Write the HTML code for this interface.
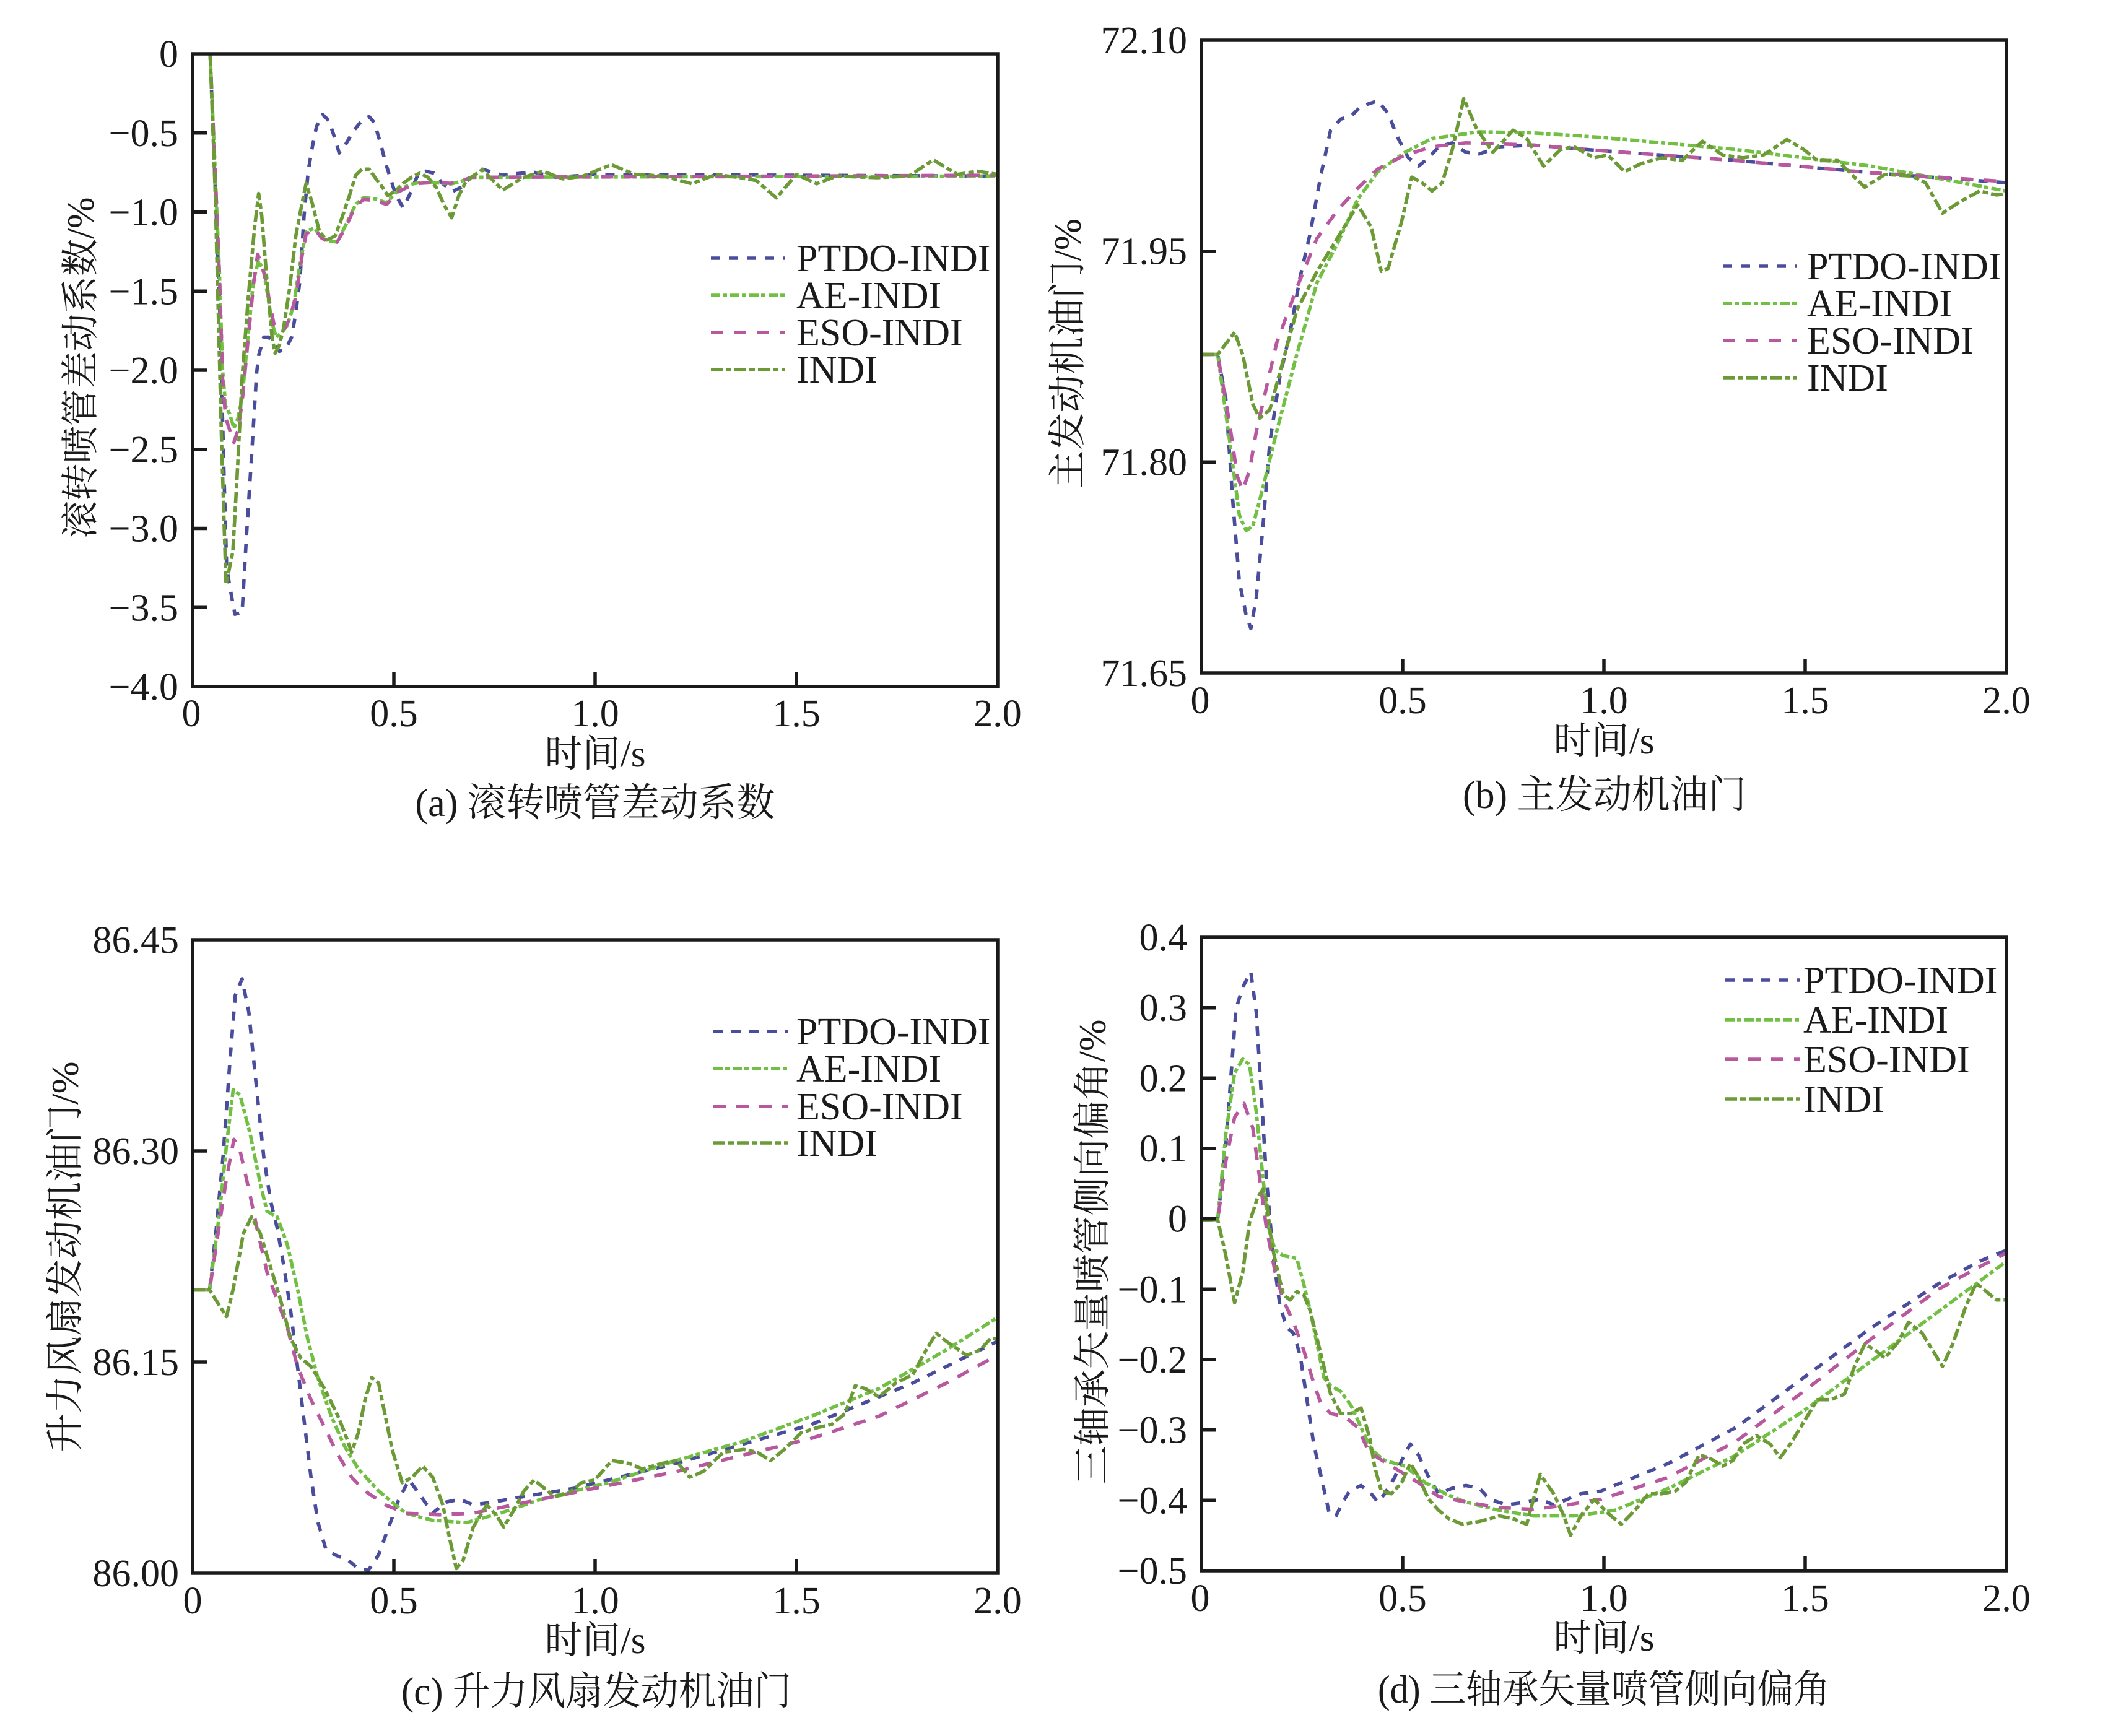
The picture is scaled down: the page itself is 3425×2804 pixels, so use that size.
<!DOCTYPE html>
<html>
<head>
<meta charset="utf-8">
<style>
  html, body { margin: 0; padding: 0; background: #ffffff; }
  svg { display: block; }
  .tk { font-family: "Liberation Serif", serif; font-size: 62px; fill: #1a1a1a; }
  .lg { font-family: "Liberation Serif", serif; font-size: 62px; fill: #1a1a1a; }
  .cj { font-family: "Liberation Serif", "Noto Serif CJK SC", serif; font-size: 61px; fill: #1a1a1a; }
  .cap { font-family: "Liberation Serif", "Noto Serif CJK SC", serif; font-size: 63px; fill: #1a1a1a; }
  .ax { fill: none; stroke: #1a1a1a; stroke-width: 5.5; }
  .tick { stroke: #1a1a1a; stroke-width: 5.5; }
  .s { fill: none; stroke-width: 5.6; stroke-linejoin: round; vector-effect: non-scaling-stroke; }
  .ptdo { stroke: #4a4c9c; stroke-dasharray: 15 14; }
  .ae { stroke: #72c043; stroke-dasharray: 15 4 7 5; }
  .eso { stroke: #b8589f; stroke-dasharray: 20 17; }
  .indi { stroke: #6c9a36; stroke-dasharray: 19 5 9 5; }
  .ls { fill: none; stroke-width: 5.6; }
</style>
</head>
<body>
<svg width="3425" height="2804" viewBox="0 0 3425 2804" xmlns="http://www.w3.org/2000/svg">
<rect x="0" y="0" width="3425" height="2804" fill="#ffffff"/>

<!-- ================= Panel (a) ================= -->
<g transform="translate(311,87) scale(0.333333,0.653595)">
  <path class="s ptdo" d="M85,0 L130,600 L150,1000 L165,1270 L185,1330 L205,1385 L240,1380 L260,1200 L285,1000 L310,790 L320,745 L345,700 L370,700 L395,720 L420,735 L450,730 L480,700 L500,640 L520,560 L540,400 L560,290 L580,230 L600,180 L630,150 L660,165 L690,210 L710,245 L740,225 L780,190 L820,165 L855,155 L880,170 L910,220 L935,270 L960,310 L985,350 L1020,380 L1050,350 L1090,300 L1130,290 L1170,295 L1210,320 L1260,340 L1300,330 L1350,305 L1404,285 L1500,300 L1650,292 L1760,305 L1950,298 L3900,302"/>
  <path class="s ae" d="M85,0 L110,300 L130,540 L145,780 L160,870 L180,890 L200,925 L220,900 L240,850 L270,690 L295,560 L320,510 L345,540 L365,600 L385,665 L405,700 L430,690 L460,670 L490,620 L520,520 L550,440 L590,430 L625,455 L660,462 L700,465 L740,425 L790,372 L830,355 L880,358 L940,368 L1000,335 L1060,322 L1100,318 L1170,318 L1250,322 L1300,315 L1350,305 L1400,305 L3900,302"/>
  <path class="s eso" d="M85,0 L110,300 L130,550 L145,800 L160,900 L180,930 L200,960 L220,930 L240,860 L270,700 L295,570 L315,495 L335,520 L355,560 L375,620 L395,670 L420,685 L445,680 L470,655 L500,600 L530,500 L550,445 L590,432 L625,455 L660,465 L700,465 L740,430 L790,375 L830,360 L880,362 L940,372 L1000,340 L1060,325 L1100,320 L1170,318 L1250,320 L1300,315 L1350,305 L1400,305 L3900,300"/>
  <path class="s indi" d="M85,0 L110,350 L125,650 L140,950 L155,1200 L162,1310 L175,1280 L195,1230 L215,1050 L240,800 L270,600 L300,430 L320,345 L335,400 L360,560 L385,700 L400,740 L420,720 L440,680 L470,580 L500,450 L530,370 L550,320 L580,370 L615,440 L650,460 L690,450 L720,410 L760,350 L790,300 L820,285 L855,285 L890,310 L920,330 L945,350 L980,340 L1020,320 L1060,305 L1100,295 L1140,305 L1180,330 L1220,375 L1255,405 L1290,350 L1320,320 L1350,305 L1404,286 L1502,337 L1599,306 L1697,290 L1794,309 L1892,302 L2028,274 L2145,298 L2282,302 L2418,321 L2535,298 L2652,306 L2730,313 L2828,356 L2925,298 L3023,321 L3120,302 L3315,306 L3471,302 L3588,262 L3705,298 L3803,290 L3900,298"/>
</g>
<rect class="ax" x="311" y="87" width="1300" height="1022"/>
<line class="tick" x1="311" y1="214.75" x2="334" y2="214.75"/>
<line class="tick" x1="311" y1="342.5" x2="334" y2="342.5"/>
<line class="tick" x1="311" y1="470.25" x2="334" y2="470.25"/>
<line class="tick" x1="311" y1="598" x2="334" y2="598"/>
<line class="tick" x1="311" y1="725.75" x2="334" y2="725.75"/>
<line class="tick" x1="311" y1="853.5" x2="334" y2="853.5"/>
<line class="tick" x1="311" y1="981.25" x2="334" y2="981.25"/>
<line class="tick" x1="636" y1="1109" x2="636" y2="1086"/>
<line class="tick" x1="961" y1="1109" x2="961" y2="1086"/>
<line class="tick" x1="1286" y1="1109" x2="1286" y2="1086"/>
<g class="tk" text-anchor="end">
  <text x="288" y="108">0</text>
  <text x="288" y="235.75">−0.5</text>
  <text x="288" y="363.5">−1.0</text>
  <text x="288" y="491.25">−1.5</text>
  <text x="288" y="619">−2.0</text>
  <text x="288" y="746.75">−2.5</text>
  <text x="288" y="874.5">−3.0</text>
  <text x="288" y="1002.25">−3.5</text>
  <text x="288" y="1130">−4.0</text>
</g>
<g class="tk" text-anchor="middle">
  <text x="309" y="1173">0</text>
  <text x="636" y="1173">0.5</text>
  <text x="961" y="1173">1.0</text>
  <text x="1286" y="1173">1.5</text>
  <text x="1611" y="1173">2.0</text>
</g>
<text class="cj" x="961" y="1238" text-anchor="middle" textLength="163" lengthAdjust="spacingAndGlyphs">时间/s</text>
<text class="cap" x="961" y="1318" text-anchor="middle" textLength="581" lengthAdjust="spacingAndGlyphs">(a) 滚转喷管差动系数</text>
<text class="cj" x="131" y="594" text-anchor="middle" dominant-baseline="central" transform="rotate(-90 131 594)" textLength="551" lengthAdjust="spacingAndGlyphs">滚转喷管差动系数/%</text>
<line class="ls ptdo" x1="1148" y1="417" x2="1268" y2="417"/>
<line class="ls ae" x1="1148" y1="477" x2="1268" y2="477"/>
<line class="ls eso" x1="1148" y1="537" x2="1268" y2="537"/>
<line class="ls indi" x1="1148" y1="597" x2="1268" y2="597"/>
<g class="lg">
  <text x="1286" y="438">PTDO-INDI</text>
  <text x="1286" y="498">AE-INDI</text>
  <text x="1286" y="558">ESO-INDI</text>
  <text x="1286" y="618">INDI</text>
</g>

<!-- ================= Panel (b) ================= -->
<g transform="translate(1712,0) scale(1.0917,0.8945)">
  <path class="s ptdo" d="M209,640 L233,640 L245,720 L255,900 L265,1050 L275,1110 L282,1135 L290,1080 L300,950 L310,800 L325,680 L340,600 L355,500 L370,420 L385,320 L400,235 L415,215 L430,210 L445,192 L470,182 L485,205 L500,250 L515,285 L530,300 L545,285 L560,265 L580,258 L600,275 L620,278 L650,265 L700,262 L800,272 L1000,290 L1200,312 L1400,330"/>
  <path class="s ae" d="M209,640 L233,640 L250,790 L265,930 L275,958 L285,950 L300,880 L320,780 L350,640 L380,510 L410,440 L440,360 L470,310 L510,275 L550,250 L620,238 L700,240 L800,248 L1000,270 L1200,300 L1400,345"/>
  <path class="s eso" d="M209,640 L233,640 L250,760 L262,860 L270,885 L280,850 L290,780 L305,700 L320,620 L350,520 L380,430 L410,380 L440,340 L470,305 L510,280 L550,265 L600,258 L700,262 L800,272 L1000,290 L1200,312 L1400,328"/>
  <path class="s indi" d="M209,640 L233,640 L258,600 L270,640 L285,730 L295,755 L310,740 L330,650 L350,560 L380,490 L410,430 L440,370 L460,410 L475,490 L485,485 L505,400 L520,320 L535,330 L550,345 L565,330 L580,270 L597,178 L615,230 L640,275 L670,235 L690,250 L715,300 L740,270 L760,265 L790,285 L810,280 L835,310 L860,295 L890,285 L920,290 L950,255 L980,280 L1010,285 L1040,280 L1075,252 L1100,270 L1120,290 L1150,290 L1190,338 L1220,315 L1260,318 L1280,330 L1305,385 L1330,365 L1360,345 L1385,352 L1400,350"/>
</g>
<rect class="ax" x="1940" y="65" width="1300" height="1022"/>
<line class="tick" x1="1940" y1="405.7" x2="1963" y2="405.7"/>
<line class="tick" x1="1940" y1="746.3" x2="1963" y2="746.3"/>
<line class="tick" x1="2265" y1="1087" x2="2265" y2="1064"/>
<line class="tick" x1="2590" y1="1087" x2="2590" y2="1064"/>
<line class="tick" x1="2915" y1="1087" x2="2915" y2="1064"/>
<g class="tk" text-anchor="end">
  <text x="1917" y="86">72.10</text>
  <text x="1917" y="426.7">71.95</text>
  <text x="1917" y="767.3">71.80</text>
  <text x="1917" y="1108">71.65</text>
</g>
<g class="tk" text-anchor="middle">
  <text x="1938" y="1152">0</text>
  <text x="2265" y="1152">0.5</text>
  <text x="2590" y="1152">1.0</text>
  <text x="2915" y="1152">1.5</text>
  <text x="3240" y="1152">2.0</text>
</g>
<text class="cj" x="2590" y="1217" text-anchor="middle" textLength="163" lengthAdjust="spacingAndGlyphs">时间/s</text>
<text class="cap" x="2591" y="1305" text-anchor="middle" textLength="458" lengthAdjust="spacingAndGlyphs">(b) 主发动机油门</text>
<text class="cj" x="1725" y="571" text-anchor="middle" dominant-baseline="central" transform="rotate(-90 1725 571)" textLength="436" lengthAdjust="spacingAndGlyphs">主发动机油门/%</text>
<line class="ls ptdo" x1="2782" y1="430" x2="2902" y2="430"/>
<line class="ls ae" x1="2782" y1="490" x2="2902" y2="490"/>
<line class="ls eso" x1="2782" y1="550" x2="2902" y2="550"/>
<line class="ls indi" x1="2782" y1="610" x2="2902" y2="610"/>
<g class="lg">
  <text x="2918" y="451">PTDO-INDI</text>
  <text x="2918" y="511">AE-INDI</text>
  <text x="2918" y="571">ESO-INDI</text>
  <text x="2918" y="631">INDI</text>
</g>

<!-- ================= Panel (c) ================= -->
<g transform="translate(0,1402) scale(1.0917,0.8945)">
  <path class="s ptdo" d="M285,762 L310,762 L320,650 L330,520 L340,350 L348,230 L358,200 L368,260 L378,380 L390,520 L400,600 L410,650 L420,720 L430,800 L440,900 L450,1000 L460,1100 L470,1180 L482,1230 L495,1240 L515,1250 L530,1265 L545,1268 L560,1240 L575,1190 L590,1140 L605,1105 L620,1130 L640,1165 L660,1145 L680,1140 L700,1150 L730,1145 L760,1138 L800,1130 L850,1120 L900,1105 L1000,1075 L1100,1040 L1200,1005 L1250,980 L1300,955 L1350,930 L1400,900 L1450,870 L1475,855"/>
  <path class="s ae" d="M285,762 L310,762 L325,620 L335,500 L345,400 L355,410 L370,480 L385,570 L395,620 L410,630 L425,680 L440,760 L455,850 L470,920 L490,990 L510,1045 L530,1085 L560,1125 L600,1165 L640,1178 L690,1182 L740,1165 L800,1140 L900,1110 L1000,1070 L1100,1035 L1200,990 L1300,940 L1400,870 L1475,812"/>
  <path class="s eso" d="M285,762 L310,762 L325,640 L335,560 L346,490 L355,510 L368,580 L380,650 L395,730 L410,780 L425,830 L440,900 L460,960 L480,1010 L500,1060 L520,1100 L540,1125 L570,1150 L600,1165 L650,1168 L700,1165 L760,1150 L800,1140 L900,1115 L1000,1090 L1100,1060 L1200,1030 L1300,990 L1400,930 L1475,880"/>
  <path class="s indi" d="M285,762 L310,762 L335,810 L345,760 L360,660 L372,630 L385,660 L400,720 L415,780 L430,850 L445,885 L460,900 L480,940 L500,990 L510,1020 L520,1055 L530,1020 L540,960 L550,920 L560,930 L570,990 L580,1050 L595,1110 L610,1100 L625,1080 L640,1100 L655,1150 L665,1210 L675,1265 L685,1250 L700,1190 L720,1150 L735,1170 L745,1190 L760,1160 L775,1125 L790,1105 L805,1120 L820,1135 L840,1130 L860,1110 L880,1105 L905,1070 L930,1075 L950,1085 L980,1075 L1000,1070 L1020,1100 L1040,1090 L1070,1055 L1100,1050 L1120,1055 L1140,1070 L1160,1050 L1185,1020 L1210,1010 L1230,1005 L1250,985 L1265,935 L1280,940 L1300,955 L1325,930 L1350,915 L1370,870 L1385,840 L1400,855 L1430,880 L1450,870 L1465,850 L1475,850"/>
</g>
<rect class="ax" x="311" y="1518" width="1300" height="1023"/>
<line class="tick" x1="311" y1="1859" x2="334" y2="1859"/>
<line class="tick" x1="311" y1="2200" x2="334" y2="2200"/>
<line class="tick" x1="636" y1="2541" x2="636" y2="2518"/>
<line class="tick" x1="961" y1="2541" x2="961" y2="2518"/>
<line class="tick" x1="1286" y1="2541" x2="1286" y2="2518"/>
<g class="tk" text-anchor="end">
  <text x="289" y="1539">86.45</text>
  <text x="289" y="1880">86.30</text>
  <text x="289" y="2221">86.15</text>
  <text x="289" y="2562">86.00</text>
</g>
<g class="tk" text-anchor="middle">
  <text x="311" y="2606">0</text>
  <text x="636" y="2606">0.5</text>
  <text x="961" y="2606">1.0</text>
  <text x="1286" y="2606">1.5</text>
  <text x="1611" y="2606">2.0</text>
</g>
<text class="cj" x="961" y="2670" text-anchor="middle" textLength="163" lengthAdjust="spacingAndGlyphs">时间/s</text>
<text class="cap" x="963" y="2753" text-anchor="middle" textLength="630" lengthAdjust="spacingAndGlyphs">(c) 升力风扇发动机油门</text>
<text class="cj" x="106" y="2030" text-anchor="middle" dominant-baseline="central" transform="rotate(-90 106 2030)" textLength="631" lengthAdjust="spacingAndGlyphs">升力风扇发动机油门/%</text>
<line class="ls ptdo" x1="1152" y1="1666" x2="1272" y2="1666"/>
<line class="ls ae" x1="1152" y1="1726" x2="1272" y2="1726"/>
<line class="ls eso" x1="1152" y1="1787" x2="1272" y2="1787"/>
<line class="ls indi" x1="1152" y1="1846" x2="1272" y2="1846"/>
<g class="lg">
  <text x="1286" y="1687">PTDO-INDI</text>
  <text x="1286" y="1747">AE-INDI</text>
  <text x="1286" y="1808">ESO-INDI</text>
  <text x="1286" y="1867">INDI</text>
</g>

<!-- ================= Panel (d) ================= -->
<g transform="translate(1712,1402) scale(1.0917,0.8945)">
  <path class="s ptdo" d="M208,635 L233,635 L245,500 L260,255 L270,215 L282,188 L290,260 L298,420 L305,560 L315,700 L325,790 L335,830 L345,840 L355,880 L365,960 L375,1040 L388,1110 L398,1165 L408,1170 L418,1145 L428,1125 L445,1115 L460,1130 L470,1145 L480,1130 L495,1100 L505,1070 L518,1040 L530,1060 L545,1100 L560,1130 L580,1120 L600,1115 L620,1120 L635,1140 L660,1150 L690,1145 L710,1140 L730,1150 L750,1140 L770,1130 L800,1125 L850,1100 L900,1075 L1000,1010 L1100,920 L1200,830 L1300,750 L1360,710 L1400,690"/>
  <path class="s ae" d="M208,635 L233,635 L245,480 L258,370 L270,345 L280,355 L290,440 L300,560 L308,650 L318,690 L330,700 L350,705 L360,750 L370,800 L380,860 L390,920 L400,935 L415,945 L430,970 L445,1010 L460,1050 L480,1070 L510,1080 L540,1110 L570,1130 L600,1145 L650,1160 L700,1170 L760,1170 L820,1160 L900,1120 L1000,1060 L1100,980 L1200,890 L1300,800 L1350,755 L1400,710"/>
  <path class="s eso" d="M208,635 L233,635 L245,530 L258,450 L272,425 L285,470 L295,560 L305,650 L318,730 L330,780 L345,820 L360,870 L375,930 L385,965 L400,985 L420,990 L440,1010 L455,1050 L470,1065 L490,1080 L510,1095 L530,1110 L560,1135 L600,1145 L650,1155 L700,1158 L750,1150 L800,1140 L900,1100 L1000,1035 L1100,945 L1200,850 L1300,760 L1360,720 L1400,695"/>
  <path class="s indi" d="M208,635 L233,635 L245,700 L258,785 L270,730 L280,640 L292,595 L300,580 L305,600 L313,680 L322,730 L330,770 L340,780 L350,765 L360,770 L370,800 L380,850 L390,900 L400,950 L415,985 L430,985 L445,975 L458,1030 L465,1080 L475,1125 L490,1130 L505,1110 L518,1075 L530,1100 L545,1140 L560,1160 L575,1175 L595,1185 L620,1180 L650,1170 L670,1175 L690,1185 L710,1095 L730,1130 L745,1170 L755,1205 L770,1170 L790,1140 L810,1165 L830,1185 L850,1160 L870,1130 L890,1130 L910,1125 L925,1110 L945,1060 L960,1065 L980,1080 L995,1070 L1010,1040 L1030,1025 L1050,1040 L1065,1065 L1080,1040 L1100,1000 L1120,960 L1140,960 L1160,950 L1175,900 L1190,860 L1205,870 L1220,885 L1240,855 L1255,820 L1275,840 L1290,870 L1305,900 L1320,860 L1340,790 L1355,750 L1370,765 L1385,780 L1400,780"/>
</g>
<rect class="ax" x="1940" y="1514" width="1300" height="1023"/>
<line class="tick" x1="1940" y1="1627.7" x2="1963" y2="1627.7"/>
<line class="tick" x1="1940" y1="1741.3" x2="1963" y2="1741.3"/>
<line class="tick" x1="1940" y1="1855" x2="1963" y2="1855"/>
<line class="tick" x1="1940" y1="1968.7" x2="1963" y2="1968.7"/>
<line class="tick" x1="1940" y1="2082.3" x2="1963" y2="2082.3"/>
<line class="tick" x1="1940" y1="2196" x2="1963" y2="2196"/>
<line class="tick" x1="1940" y1="2309.7" x2="1963" y2="2309.7"/>
<line class="tick" x1="1940" y1="2423.3" x2="1963" y2="2423.3"/>
<line class="tick" x1="2265" y1="2537" x2="2265" y2="2514"/>
<line class="tick" x1="2590" y1="2537" x2="2590" y2="2514"/>
<line class="tick" x1="2915" y1="2537" x2="2915" y2="2514"/>
<g class="tk" text-anchor="end">
  <text x="1917" y="1535">0.4</text>
  <text x="1917" y="1648.7">0.3</text>
  <text x="1917" y="1762.3">0.2</text>
  <text x="1917" y="1876">0.1</text>
  <text x="1917" y="1989.7">0</text>
  <text x="1917" y="2103.3">−0.1</text>
  <text x="1917" y="2217">−0.2</text>
  <text x="1917" y="2330.7">−0.3</text>
  <text x="1917" y="2444.3">−0.4</text>
  <text x="1917" y="2558">−0.5</text>
</g>
<g class="tk" text-anchor="middle">
  <text x="1938" y="2602">0</text>
  <text x="2265" y="2602">0.5</text>
  <text x="2590" y="2602">1.0</text>
  <text x="2915" y="2602">1.5</text>
  <text x="3240" y="2602">2.0</text>
</g>
<text class="cj" x="2590" y="2666" text-anchor="middle" textLength="163" lengthAdjust="spacingAndGlyphs">时间/s</text>
<text class="cap" x="2590" y="2750" text-anchor="middle" textLength="730" lengthAdjust="spacingAndGlyphs">(d) 三轴承矢量喷管侧向偏角</text>
<text class="cj" x="1765" y="2022" text-anchor="middle" dominant-baseline="central" transform="rotate(-90 1765 2022)" textLength="751" lengthAdjust="spacingAndGlyphs">三轴承矢量喷管侧向偏角/%</text>
<line class="ls ptdo" x1="2786" y1="1583" x2="2907" y2="1583"/>
<line class="ls ae" x1="2786" y1="1647" x2="2907" y2="1647"/>
<line class="ls eso" x1="2786" y1="1711" x2="2907" y2="1711"/>
<line class="ls indi" x1="2786" y1="1775" x2="2907" y2="1775"/>
<g class="lg">
  <text x="2912" y="1604">PTDO-INDI</text>
  <text x="2912" y="1668">AE-INDI</text>
  <text x="2912" y="1732">ESO-INDI</text>
  <text x="2912" y="1796">INDI</text>
</g>
</svg>
</body>
</html>
